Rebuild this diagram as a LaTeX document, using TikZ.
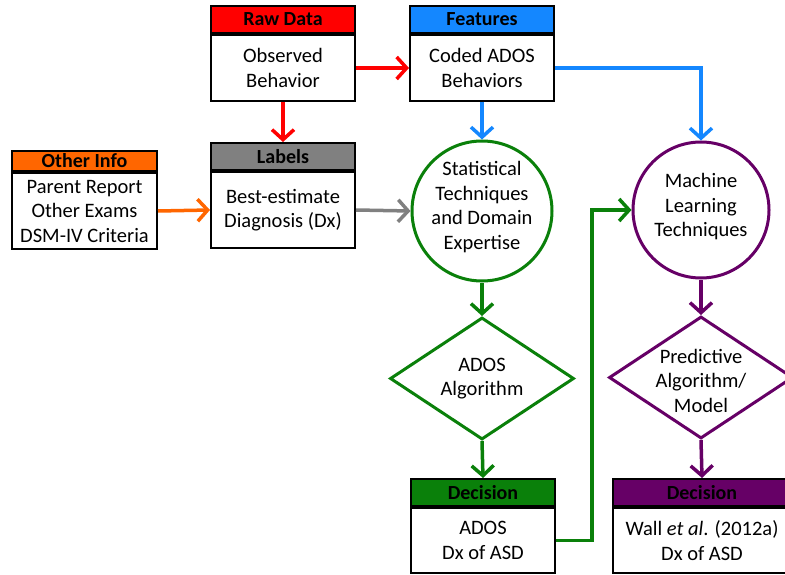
\documentclass[tikz,border=0pt]{standalone}
\usepackage{fontspec}
\setmainfont{Carlito}
\usetikzlibrary{arrows.meta,positioning,shapes.geometric}
\definecolor{FlowRed}{HTML}{FF0000}
\definecolor{FlowBlue}{HTML}{1487FF}
\definecolor{FlowGray}{HTML}{808080}
\definecolor{FlowOrange}{HTML}{FF6600}
\definecolor{FlowGreen}{HTML}{0A800A}
\definecolor{FlowPurple}{HTML}{660066}

\tikzset{
  txt/.style={align=center, font=\fontsize{20.5}{24.5}\selectfont},
  body/.style={txt, draw=black, line width=2pt, fill=white, minimum width=144, inner sep=0pt},
  hdr/.style={draw=black, line width=2pt, fill=#1, minimum width=144, minimum height=27,
    inner sep=0pt, font=\fontsize{20}{24}\selectfont\bfseries},
  blob/.style={circle, draw=#1, line width=3pt, fill=white, inner sep=0pt},
  dia/.style={diamond, draw=#1, line width=3pt, fill=white, inner sep=0pt,
    minimum width=184, minimum height=122},
  flow/.style={line width=3.5pt, draw=#1,
    -{Straight Barb[length=10pt, width=22pt, line width=3.5pt]}},
}

\begin{document}
\begin{tikzpicture}[x=1pt, y=-1pt]
    \clip (0,0) rectangle (785,575);

    % Top row
    \node[body, minimum height=66] (rawbody) at (283,68) {Observed\\Behavior};
    \node[hdr=FlowRed, above=0pt of rawbody] (rawhdr) {Raw Data};
    \node[body, minimum height=66] (featbody) at (482,68) {Coded ADOS\\Behaviors};
    \node[hdr=FlowBlue, above=0pt of featbody] (feathdr) {Features};

    % Second row
    \node[body, minimum height=76] (lblbody) at (283,210) {Best-estimate\\Diagnosis (Dx)};
    \node[hdr=FlowGray, above=0pt of lblbody] (lblhdr) {Labels};
    \node[body, minimum height=76, minimum width=145] (otherbody) at (84.5,211)
        {Parent Report\\Other Exams\\DSM-IV Criteria};
    \node[hdr=FlowOrange, minimum width=145, minimum height=20, above=0pt of otherbody]
        (otherhdr) {Other Info};

    % Circles
    \node[blob=FlowGreen, minimum size=140,
        label={[txt, yshift=4]center:Statistical\\Techniques\\and Domain\\Expertise}]
        (stat) at (482,211) {};
    \node[blob=FlowPurple, minimum size=136,
        label={[txt, yshift=3]center:Machine\\Learning\\Techniques}]
        (ml) at (701,210) {};

    % Diamonds
    \node[dia=FlowGreen, label={[txt]center:ADOS\\Algorithm}] (alg) at (482,378.5) {};
    \node[dia=FlowPurple, label={[txt, yshift=-3]center:Predictive\\Algorithm/\\Model}]
        (pred) at (701,377.5) {};

    % Decisions
    \node[body, minimum height=65] (adosbody) at (483,540.5) {ADOS\\Dx of ASD};
    \node[hdr=FlowGreen, above=0pt of adosbody] (adoshdr) {Decision};
    \node[body, minimum height=65, minimum width=178] (wallbody) at (702,540.5)
        {Wall \textit{et al}. (2012a)\\Dx of ASD};
    \node[hdr=FlowPurple, minimum width=178, above=0pt of wallbody] (wallhdr) {Decision};

    % Connectors
    \draw[flow=FlowRed] (rawbody.east) -- (featbody.west);
    \draw[flow=FlowRed] (rawbody.south) -- (lblhdr.north);
    \draw[flow=FlowBlue] (featbody.south) -- (stat.north);
    \draw[flow=FlowBlue] (featbody.east) -| (ml.north);
    \draw[flow=FlowOrange] (otherbody.east) -- (lblbody.west);
    \draw[flow=FlowGray] (lblbody.east) -- (stat.west);
    \draw[flow=FlowGreen] (stat.south) -- (alg.north);
    \draw[flow=FlowGreen] (alg.south) -- (adoshdr.north);
    \draw[flow=FlowGreen] (adosbody.east) -- ++(36,0) |- (ml.west);
    \draw[flow=FlowPurple] (ml.south) -- (pred.north);
    \draw[flow=FlowPurple] (pred.south) -- (wallhdr.north);
\end{tikzpicture}
\end{document}
